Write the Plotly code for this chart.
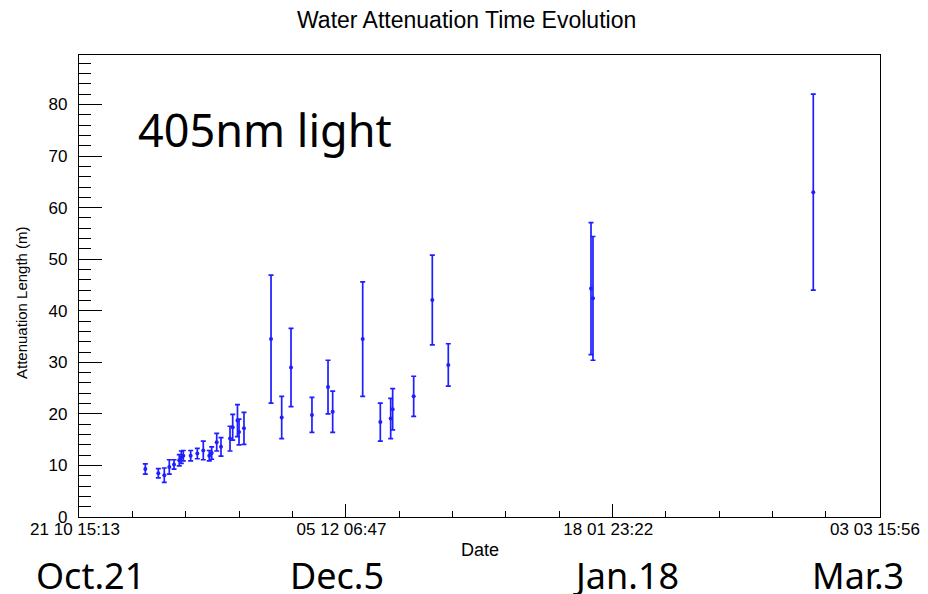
import plotly.graph_objects as go
import pandas as pd

chart_title = "Water Attenuation Time Evolution"
x_title = "Date"
y_title = "Attenuation Length (m)"
overlay_text = "405nm light"

dates = [
    "2019-11-01 17:50", "2019-11-03 22:10", "2019-11-04 22:10", "2019-11-05 18:20",
    "2019-11-06 13:20", "2019-11-07 10:25", "2019-11-07 18:35", "2019-11-08 02:30",
    "2019-11-09 08:15", "2019-11-10 10:55", "2019-11-11 10:55", "2019-11-12 11:05",
    "2019-11-12 20:45", "2019-11-13 16:55", "2019-11-14 10:10", "2019-11-15 22:25",
    "2019-11-16 09:13", "2019-11-17 04:25", "2019-11-17 10:40", "2019-11-18 06:35",
    "2019-11-22 19:20", "2019-11-24 14:15", "2019-11-26 03:40", "2019-11-29 15:55",
    "2019-12-02 08:30", "2019-12-03 03:13", "2019-12-08 03:55", "2019-12-11 02:45",
    "2019-12-12 20:30", "2019-12-13 04:25", "2019-12-16 16:55", "2019-12-19 19:50",
    "2019-12-22 12:05", "2020-01-15 09:55", "2020-01-15 17:50", "2020-02-21 15:40",
]
atten = [
    9.3, 8.5, 8.1, 9.7, 10.2, 11.0, 11.6, 11.9, 11.9, 12.3, 12.9, 11.9,
    12.4, 14.5, 13.6, 15.2, 17.4, 18.7, 16.5, 17.2,
    34.5, 19.3, 29.0, 19.8, 25.2, 20.4, 34.5, 18.4, 19.1, 20.9, 23.4, 42.1,
    29.5, 44.3, 42.4, 63.0,
]
atten_err = [
    1.0, 0.9, 1.4, 1.4, 0.9, 1.1, 1.2, 1.0, 1.0, 1.0, 1.8, 1.0,
    1.2, 1.7, 1.8, 2.4, 2.5, 3.1, 2.5, 3.1,
    12.4, 4.1, 7.6, 3.4, 5.2, 4.0, 11.1, 3.7, 3.9, 4.0, 3.9, 8.7,
    4.1, 12.8, 12.0, 19.0,
]

tick_dates = ["2019-10-21 15:13", "2019-12-05 06:47", "2020-01-18 23:22", "2020-03-03 15:56"]
tick_labels = ["21 10 15:13", "05 12 06:47", "18 01 23:22", "03 03 15:56"]
month_labels = ["Oct.21", "Dec.5", "Jan.18", "Mar.3"]

x_start = "2019-10-21 15:13"
x_end = "2020-03-03 19:56"
y_max = 89.6

minor_ms = (pd.Timestamp(tick_dates[-1]) - pd.Timestamp(tick_dates[0])).total_seconds() * 1000 / 15

BLUE = "rgb(30,30,255)"
ROOT_FONT = "Liberation Sans, Arial, Helvetica, sans-serif"
BIG_FONT = "Noto Sans, DejaVu Sans, sans-serif"

fig = go.Figure()
fig.add_trace(go.Scatter(
    x=dates, y=atten, mode="markers",
    marker=dict(color=BLUE, size=4, symbol="circle"),
    error_y=dict(type="data", array=atten_err, visible=True,
                 color=BLUE, thickness=1.7, width=2.5),
    showlegend=False,
))

# page body has an 8px margin: the plot area is placed so it spans x 79..880, y 55..517 in the window
fig.update_layout(
    width=920, height=586, autosize=False,
    margin=dict(l=71, r=48, t=47, b=77, pad=0),
    paper_bgcolor="white", plot_bgcolor="white",
    font=dict(family=ROOT_FONT, color="black"),
    xaxis=dict(
        type="date", range=[x_start, x_end], automargin=False,
        tickmode="array", tickvals=tick_dates, ticktext=tick_labels,
        ticks="inside", ticklen=13, tickwidth=1, tickcolor="black",
        tickfont=dict(size=17, family=ROOT_FONT, color="black"),
        ticklabelstandoff=-4, ticklabelshift=-4,
        showgrid=False, zeroline=False,
        showline=True, linecolor="black", linewidth=1.2, mirror=True,
        minor=dict(tick0=tick_dates[0], dtick=minor_ms, ticks="inside",
                   ticklen=6, tickwidth=1, tickcolor="black", showgrid=False),
    ),
    yaxis=dict(
        range=[0, y_max], dtick=10, tick0=0, automargin=False,
        ticks="inside", ticklen=23, tickwidth=1, tickcolor="black",
        tickfont=dict(size=17, family=ROOT_FONT, color="black"),
        showgrid=False, zeroline=False,
        showline=True, linecolor="black", linewidth=1.2, mirror=True,
        ticklabelstandoff=7,
        minor=dict(dtick=2, ticks="inside", ticklen=12, tickwidth=1,
                   tickcolor="black", showgrid=False),
    ),
)

def px_x(p):
    return (p - 79) / 801.0

def px_y(p):
    return (517 - p) / 462.0

annotations = [
    dict(text=chart_title, x=px_x(466), y=px_y(20), xref="paper", yref="paper",
         showarrow=False, xanchor="center", yanchor="middle",
         font=dict(size=23, family=ROOT_FONT, color="black")),
    dict(text=y_title, x=px_x(21), y=px_y(303), xref="paper", yref="paper",
         showarrow=False, xanchor="center", yanchor="middle", textangle=-90,
         font=dict(size=15, family=ROOT_FONT, color="black")),
    dict(text=x_title, x=px_x(480), y=px_y(550), xref="paper", yref="paper",
         showarrow=False, xanchor="center", yanchor="middle",
         font=dict(size=18, family=ROOT_FONT, color="black")),
    dict(text=overlay_text, x=px_x(136), y=px_y(129), xref="paper", yref="paper",
         showarrow=False, xanchor="left", yanchor="middle",
         font=dict(size=45, family=BIG_FONT, color="black")),
]
for label, cx in zip(month_labels, [90, 337, 626, 858]):
    annotations.append(dict(text=label, x=px_x(cx), y=px_y(575), xref="paper", yref="paper",
                            showarrow=False, xanchor="center", yanchor="middle",
                            font=dict(size=36, family=BIG_FONT, color="black")))
fig.update_layout(annotations=annotations)

fig.write_html("out.html")
